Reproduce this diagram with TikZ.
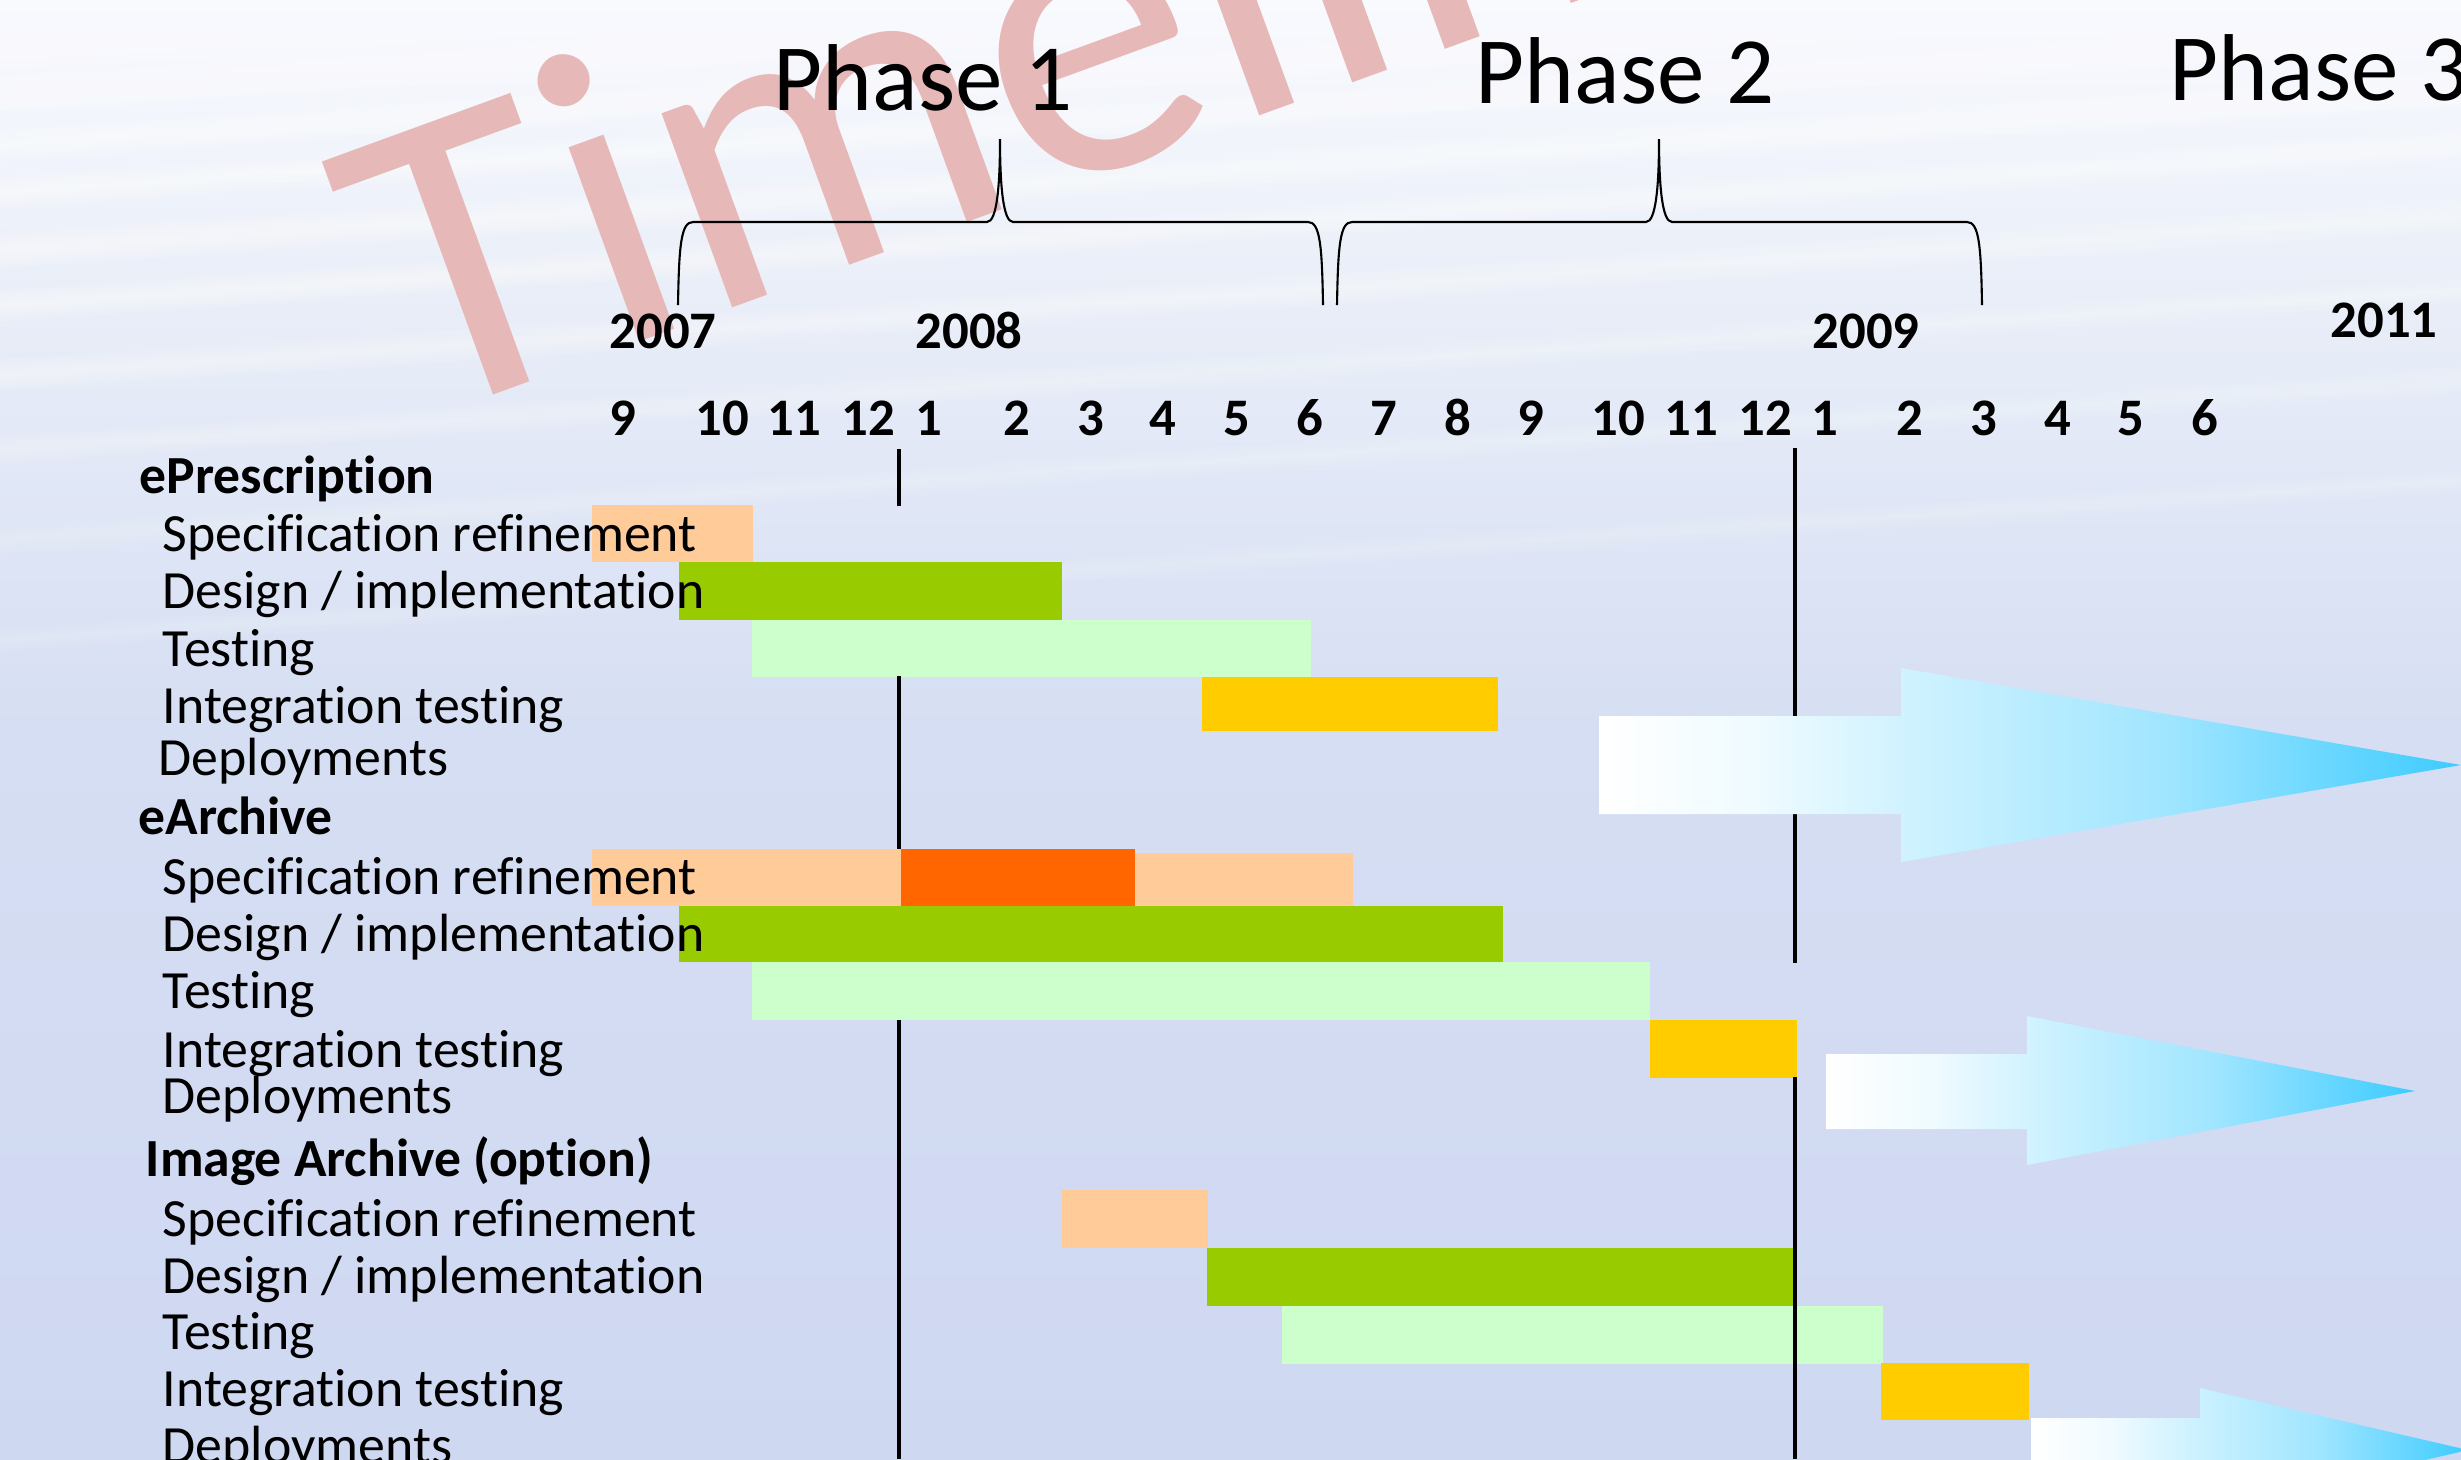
\documentclass[tikz,border=0pt]{standalone}
\usepackage{fontspec}
\setmainfont{Carlito}[Ligatures=NoCommon]
\usepackage{tikz}
\definecolor{b0}{HTML}{F9FAFE}
\definecolor{b1}{HTML}{E9EEF8}
\definecolor{b2}{HTML}{D6DEF3}
\definecolor{b3}{HTML}{CED8F1}
\definecolor{wm}{HTML}{E6B8B7}
\definecolor{pe}{HTML}{FFCC99}
\definecolor{gr}{HTML}{99CC00}
\definecolor{lg}{HTML}{CCFFCC}
\definecolor{ye}{HTML}{FFCC00}
\definecolor{or}{HTML}{FF6600}
\definecolor{cy}{HTML}{3DCBFF}

\pgfdeclareverticalshading{backdrop}{100bp}{color(0bp)=(b3); color(25bp)=(b3); color(50bp)=(b2); color(65bp)=(b1); color(75bp)=(b0); color(100bp)=(b0)}
\pgfdeclarehorizontalshading{deploy}{100bp}{color(0bp)=(white); color(25bp)=(white); color(34bp)=(white!92!cy); color(42bp)=(white!77!cy); color(58bp)=(white!51!cy); color(75bp)=(cy); color(100bp)=(cy)}

\tikzset{
  phase/.style={font=\fontsize{27}{32}\selectfont, anchor=base west, inner sep=0},
  year/.style={font=\bfseries\fontsize{15}{18}\selectfont, anchor=base west, inner sep=0},
  month/.style={font=\bfseries\fontsize{15}{18}\selectfont, anchor=base, inner sep=0},
  group/.style={font=\bfseries\fontsize{15.25}{18}\selectfont, anchor=base west, inner sep=0},
  task/.style={font=\fontsize{15.3}{18}\selectfont, anchor=base west, inner sep=0},
  wmark/.style={font=\fontsize{123}{123}\selectfont, text=wm, anchor=base west, inner sep=0, rotate=20},
  braceline/.style={draw=black, line width=0.6pt},
  milestone/.style={draw=black, line width=1pt},
  specbar/.style={fill=pe},
  designbar/.style={fill=gr},
  testbar/.style={fill=lg},
  integbar/.style={fill=ye},
  delaybar/.style={fill=or},
  deployarrow/.style={shading=deploy},
}

% curly brace over a phase: left end, tip, right end
\newcommand{\phasebrace}[3]{%
  \draw[braceline] (#1,305) .. controls (#1+1,245) and (#1+3,222) .. (#1+15,222) -- (#2-13,222)
    .. controls (#2-3,222) and (#2,185) .. (#2,139) .. controls (#2,185) and (#2+3,222) .. (#2+13,222)
    -- (#3-15,222) .. controls (#3-3,222) and (#3-1,245) .. (#3,305);}

% soft white band in the backdrop: left y, half width, opacity of one layer
\newcommand{\bgstreak}[3]{%
  \fill[white, opacity=#3] (0,#1-#2) -- (2461,#1-#2-160) -- (2461,#1+#2-160) -- (0,#1+#2) -- cycle;
  \fill[white, opacity=#3] (0,#1-#2*0.8) -- (2461,#1-#2*0.8-160) -- (2461,#1+#2*0.8-160) -- (0,#1+#2*0.8) -- cycle;
  \fill[white, opacity=#3] (0,#1-#2*0.6) -- (2461,#1-#2*0.6-160) -- (2461,#1+#2*0.6-160) -- (0,#1+#2*0.6) -- cycle;
  \fill[white, opacity=#3] (0,#1-#2*0.4) -- (2461,#1-#2*0.4-160) -- (2461,#1+#2*0.4-160) -- (0,#1+#2*0.4) -- cycle;
  \fill[white, opacity=#3] (0,#1-#2*0.2) -- (2461,#1-#2*0.2-160) -- (2461,#1+#2*0.2-160) -- (0,#1+#2*0.2) -- cycle;}

\begin{document}
\begin{tikzpicture}[x=0.01cm, y=-0.01cm]
  \useasboundingbox (0,0) rectangle (2461,1459);
  \clip (0,0) rectangle (2461,1459);

  % backdrop
  \shade[shading=backdrop] (0,0) rectangle (2461,1459);
  \bgstreak{30}{40}{0.14}
  \bgstreak{95}{18}{0.14}
  \bgstreak{145}{16}{0.14}
  \bgstreak{192}{16}{0.14}
  \bgstreak{250}{18}{0.13}
  \bgstreak{305}{16}{0.12}
  \bgstreak{375}{16}{0.10}
  \bgstreak{450}{14}{0.08}
  \bgstreak{540}{14}{0.06}
  \bgstreak{640}{12}{0.05}

  \node[wmark] (title) at (412,425) {Timeline};

  % ePrescription
  \fill[specbar]   (592,505)  rectangle (753,562);
  \fill[designbar] (679,562)  rectangle (1062,620);
  \fill[testbar]   (752,620)  rectangle (1311,677);
  \fill[integbar]  (1202,677) rectangle (1498,731);

  % eArchive
  \fill[specbar]   (592,849)  rectangle (901,906);
  \fill[delaybar]  (901,849)  rectangle (1135,906);
  \fill[specbar]   (1135,853) rectangle (1353,906);
  \fill[designbar] (679,906)  rectangle (1503,962);
  \fill[testbar]   (752,962)  rectangle (1650,1020);
  \fill[integbar]  (1650,1020) rectangle (1797,1078);

  % Image Archive
  \fill[specbar]   (1062,1190) rectangle (1208,1248);
  \fill[designbar] (1207,1248) rectangle (1795,1306);
  \fill[testbar]   (1282,1306) rectangle (1883,1364);
  \fill[integbar]  (1881,1363) rectangle (2029,1420);

  % year ends
  \draw[milestone] (899,449) -- (899,506);
  \draw[milestone] (899,676) -- (899,849);
  \draw[milestone] (899,1020) -- (899,1459);
  \draw[milestone] (1795,448) -- (1795,963);
  \draw[milestone] (1795,1077) -- (1795,1459);

  % deployments
  \shade[deployarrow] (1599,716) -- (1901,716) -- (1901,668) -- (2461,765) -- (1901,862) -- (1901,814) -- (1599,814) -- cycle;
  \shade[deployarrow] (1826,1054) -- (2027,1054) -- (2027,1016) -- (2415,1091) -- (2027,1165) -- (2027,1129) -- (1826,1129) -- cycle;
  \shade[deployarrow] (2031,1418) -- (2200,1418) -- (2200,1388) -- (2468,1450) -- (2200,1512) -- (2200,1482) -- (2031,1482) -- cycle;

  \phasebrace{678}{1000}{1323}
  \phasebrace{1337}{1659}{1982}

  \node[phase] (ph1) at (773,110) {Phase 1};
  \node[phase] (ph2) at (1475,103) {Phase 2};
  \node[phase] (ph3) at (2169,100) {Phase 3};

  \node[year] (y2007) at (609,348) {2007};
  \node[year] (y2008) at (915,348) {2008};
  \node[year] (y2009) at (1812,348) {2009};
  \node[year] (y2011) at (2330,337) {2011};

  \node[month] (sep07) at (623,435)  {9};
  \node[month] (oct07) at (722,435)  {10};
  \node[month] (nov07) at (794,435)  {11};
  \node[month] (dec07) at (868,435)  {12};
  \node[month] (jan08) at (929,435)  {1};
  \node[month] (feb08) at (1017,435) {2};
  \node[month] (mar08) at (1091,435) {3};
  \node[month] (apr08) at (1163,435) {4};
  \node[month] (may08) at (1237,435) {5};
  \node[month] (jun08) at (1310,435) {6};
  \node[month] (jul08) at (1384,435) {7};
  \node[month] (aug08) at (1458,435) {8};
  \node[month] (sep08) at (1531,435) {9};
  \node[month] (oct08) at (1618,435) {10};
  \node[month] (nov08) at (1691,435) {11};
  \node[month] (dec08) at (1765,435) {12};
  \node[month] (jan09) at (1825,435) {1};
  \node[month] (feb09) at (1910,435) {2};
  \node[month] (mar09) at (1984,435) {3};
  \node[month] (apr09) at (2058,435) {4};
  \node[month] (may09) at (2131,435) {5};
  \node[month] (jun09) at (2205,435) {6};

  \node[group] (epre) at (139,493)  {ePrescription};
  \node[task]  (epspec) at (162,551)  {Specification refinement};
  \node[task]  (epdes)  at (162,608)  {Design / implementation};
  \node[task]  (eptest) at (162,666)  {Testing};
  \node[task]  (epint)  at (162,723)  {Integration testing};
  \node[task]  (epdep)  at (158,775)  {Deployments};

  \node[group] (earc) at (138,834)  {eArchive};
  \node[task]  (easpec) at (162,894)  {Specification refinement};
  \node[task]  (eades)  at (162,951)  {Design / implementation};
  \node[task]  (eatest) at (162,1008) {Testing};
  \node[task]  (eaint)  at (162,1067) {Integration testing};
  \node[task]  (eadep)  at (162,1113) {Deployments};

  \node[group] (iarc) at (145,1176) {Image Archive (option)};
  \node[task]  (iaspec) at (162,1236) {Specification refinement};
  \node[task]  (iades)  at (162,1293) {Design / implementation};
  \node[task]  (iatest) at (162,1349) {Testing};
  \node[task]  (iaint)  at (162,1406) {Integration testing};
  \node[task]  (iadep)  at (162,1463) {Deployments};
\end{tikzpicture}
\end{document}
